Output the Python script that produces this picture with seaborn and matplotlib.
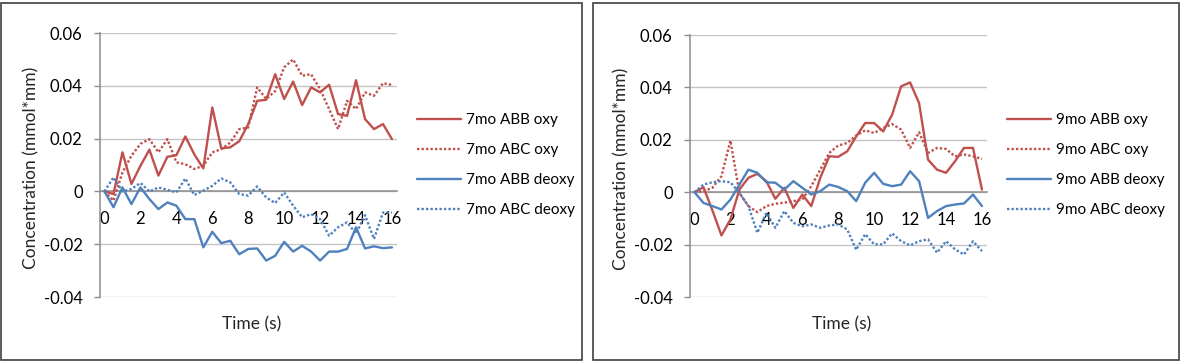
import matplotlib
matplotlib.use("Agg")
import matplotlib.pyplot as plt
import seaborn as sns
import pandas as pd
from matplotlib.patches import Rectangle

# ---------------- data ----------------
time_s = [0, 0.5, 1, 1.5, 2, 2.5, 3, 3.5, 4, 4.5, 5, 5.5, 6, 6.5, 7, 7.5, 8,
          8.5, 9, 9.5, 10, 10.5, 11, 11.5, 12, 12.5, 13, 13.5, 14, 14.5, 15, 15.5, 16]

abb7_oxy = [0, -0.001, 0.0148, 0.0028, 0.0097, 0.0158, 0.006, 0.0131, 0.0137, 0.0208, 0.014,
            0.0087, 0.0318, 0.0163, 0.0167, 0.019, 0.0255,
            0.0343, 0.0347, 0.0444, 0.035, 0.0416, 0.0327, 0.0394, 0.0375, 0.0404, 0.0293,
            0.0286, 0.0421, 0.0274, 0.0236, 0.0255, 0.0198]
abc7_oxy = [0, -0.0035, 0.0072, 0.0135, 0.018, 0.0198, 0.0148, 0.0198, 0.011, 0.0103, 0.0085,
            0.0097, 0.0148, 0.016, 0.0185, 0.0236, 0.0242,
            0.0394, 0.035, 0.038, 0.047, 0.05, 0.0438, 0.0444, 0.0387, 0.0312, 0.0236,
            0.0343, 0.0312, 0.0375, 0.0362, 0.041, 0.0403]
abb7_deoxy = [0, -0.006, 0.0015, -0.0048, 0.0015, -0.0029, -0.0067, -0.0042, -0.0054, -0.0105,
              -0.0105, -0.0212, -0.0153, -0.0196, -0.0187, -0.0238, -0.0218,
              -0.0216, -0.0262, -0.0244, -0.0191, -0.0228, -0.0206, -0.0228, -0.0262, -0.0228,
              -0.0228, -0.0218, -0.0136, -0.0216, -0.0208, -0.0215, -0.0212]
abc7_deoxy = [0, 0.0053, 0.0, 0.0009, 0.0032, 0.0, 0.0015, 0.0006, -0.0004, 0.0049, -0.0014,
              0.0003, 0.0021, 0.0049, 0.0034, -0.001, -0.0016,
              0.0019, -0.0023, -0.0044, -0.0004, -0.0054, -0.0098, -0.0086, -0.0105, -0.0168,
              -0.0136, -0.0117, -0.016, -0.009, -0.018, -0.008, -0.008]

abb9_oxy = [0, 0.0019, -0.007, -0.0165, -0.0104, 0.001, 0.0055, 0.007, 0.0042, -0.0025, 0.0017,
            -0.006, -0.0009, -0.0053, 0.0055, 0.0137, 0.0135,
            0.0156, 0.0213, 0.0264, 0.0264, 0.0232, 0.0296, 0.0404, 0.0419, 0.034, 0.0124,
            0.0086, 0.0074, 0.0118, 0.0169, 0.0169, 0.001]
abc9_oxy = [0, 0.0004, 0.0017, 0.0061, 0.0197, -0.0003, -0.0053, -0.0076, -0.0053, -0.0044,
            -0.004, -0.0034, -0.0028, 0.0023, 0.0086, 0.015, 0.0178,
            0.0188, 0.0216, 0.0236, 0.0226, 0.0245, 0.026, 0.0239, 0.0169, 0.0229, 0.015,
            0.0169, 0.0165, 0.0137, 0.0144, 0.0137, 0.0127]
abb9_deoxy = [0, -0.0041, -0.0053, -0.0066, -0.0028, 0.0029, 0.0086, 0.0074, 0.0038, 0.0036,
              0.001, 0.0042, 0.0017, -0.0009, 0.0004, 0.0029, 0.002,
              0.0004, -0.0034, 0.0036, 0.0074, 0.0032, 0.0023, 0.0029, 0.008, 0.0042, -0.0098,
              -0.0072, -0.0053, -0.0047, -0.0043, -0.0009, -0.0053]
abc9_deoxy = [0, 0.0029, 0.0038, 0.0042, 0.0038, -0.0003, -0.0053, -0.0155, -0.0079, -0.0136,
              -0.0072, -0.0117, -0.013, -0.0123, -0.0136, -0.0127, -0.0123,
              -0.0142, -0.022, -0.016, -0.0199, -0.0199, -0.0157, -0.0187, -0.0203, -0.0187,
              -0.018, -0.0231, -0.0187, -0.0218, -0.0238, -0.0187, -0.0225]

labels7 = ["7mo ABB oxy", "7mo ABC oxy", "7mo ABB deoxy", "7mo ABC deoxy"]
labels9 = ["9mo ABB oxy", "9mo ABC oxy", "9mo ABB deoxy", "9mo ABC deoxy"]

x_ticks = [0, 2, 4, 6, 8, 10, 12, 14, 16]
x_ticklabels = ["0", "2", "4", "6", "8", "10", "12", "14", "16"]
y_ticks = [-0.04, -0.02, 0, 0.02, 0.04, 0.06]
y_ticklabels = ["-0.04", "-0.02", "0", "0.02", "0.04", "0.06"]

x_title = "Time (s)"
y_title = "Concentration (mmol*mm)"

RED = "#C0504D"
BLUE = "#4F81BD"

# ---------------- style ----------------
sns.set_theme(style="white")
plt.rcParams["font.family"] = ["Lato", "DejaVu Sans"]
plt.rcParams["text.color"] = "black"
plt.rcParams["xtick.color"] = "black"
plt.rcParams["ytick.color"] = "black"

W, H = 1181, 361
fig = plt.figure(figsize=(W / 100, H / 100), dpi=100)
fig.patch.set_facecolor("white")

FS_TICK = 12
FS_TITLE = 12.5
FS_LEG = 11


def long_frame(labels, series):
    rows = []
    for lab, vals in zip(labels, series):
        for t, v in zip(time_s, vals):
            rows.append({"Time": t, "Conc": v, "Series": lab})
    return pd.DataFrame(rows)


def panel(left_px, top_px, labels, series):
    bottom_px = 297
    ax = fig.add_axes([left_px / W, 1 - bottom_px / H, 297 / W, (bottom_px - top_px) / H])
    df = long_frame(labels, series)
    palette = {labels[0]: RED, labels[1]: RED, labels[2]: BLUE, labels[3]: BLUE}
    dashes = {labels[0]: "", labels[1]: (1, 0.9), labels[2]: "", labels[3]: (1, 0.9)}
    sns.lineplot(data=df, x="Time", y="Conc", hue="Series", style="Series",
                 hue_order=labels, style_order=labels, palette=palette, dashes=dashes,
                 linewidth=1.7, ax=ax, zorder=3)
    ax.set_xlim(-0.25, 16.28)
    ax.set_ylim(-0.04, 0.06)
    ax.set_xticks(x_ticks)
    ax.set_xticklabels(x_ticklabels)
    ax.set_yticks(y_ticks)
    ax.set_yticklabels(y_ticklabels)
    for s in ["top", "right"]:
        ax.spines[s].set_visible(False)
    ax.spines["bottom"].set_position(("data", 0))
    ax.spines["bottom"].set_color("#8C8C8C")
    ax.spines["left"].set_color("#8C8C8C")
    ax.spines["bottom"].set_linewidth(1.1)
    ax.spines["left"].set_linewidth(1.1)
    ax.set_axisbelow(True)
    ax.grid(axis="y", color="#C4C4C4", linewidth=1.0)
    ax.grid(axis="x", visible=False)
    ax.tick_params(axis="x", length=0, pad=14, labelsize=FS_TICK)
    ax.tick_params(axis="y", left=True, length=4.5, width=1, color="#8C8C8C",
                   direction="out", pad=8, labelsize=FS_TICK)
    ax.set_xlabel(x_title, fontsize=FS_TITLE)
    ax.set_ylabel(y_title, fontsize=FS_TITLE)
    ax.xaxis.set_label_coords(0.51, -0.075)
    ax.yaxis.set_label_coords(-0.205, 0.49)
    handles, labs = ax.get_legend_handles_labels()
    ax.legend(handles, labs, loc="center left",
              bbox_to_anchor=((left_px + 317) / W, 1 - 165 / H),
              bbox_transform=fig.transFigure, frameon=False, fontsize=FS_LEG,
              handlelength=2.9, handletextpad=0.3, labelspacing=1.05,
              borderpad=0, borderaxespad=0)
    return ax


panel(100, 33, labels7, [abb7_oxy, abc7_oxy, abb7_deoxy, abc7_deoxy])
panel(690, 35, labels9, [abb9_oxy, abc9_oxy, abb9_deoxy, abc9_deoxy])

# chart frames
fig.add_artist(Rectangle((1.5 / W, 1.5 / H), 580 / W, 357 / H, transform=fig.transFigure,
                         fill=False, edgecolor="#404040", linewidth=1.2))
fig.add_artist(Rectangle((593 / W, 1.5 / H), 586 / W, 357 / H, transform=fig.transFigure,
                         fill=False, edgecolor="#404040", linewidth=1.2))

fig.savefig("out.png", dpi=100, facecolor="white")
